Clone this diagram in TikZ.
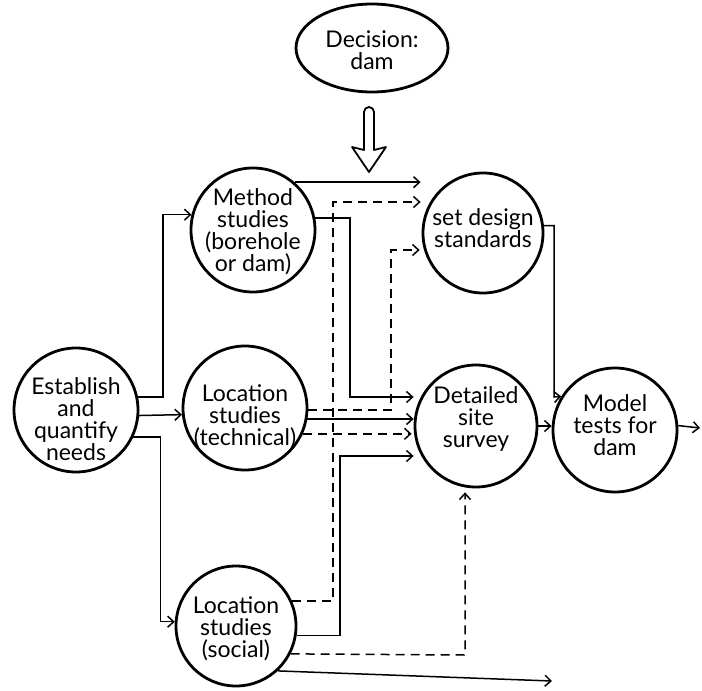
\documentclass[tikz,border=0pt]{standalone}
\usepackage{fontspec}
\setmainfont{Lato}
\usetikzlibrary{arrows.meta,shapes.geometric}
\begin{document}
\begin{tikzpicture}[x=1pt,y=-1pt,
  bubble/.style={circle,draw,line width=2.8pt,inner sep=0pt,minimum size=#1},
  bubble/.default=124pt,
  lbl/.style={align=center,font=\fontsize{23}{22}\selectfont,inner sep=0pt},
  flow/.style={line width=1.5pt,-{Straight Barb[length=6pt,width=11pt,line width=1.5pt]}},
  dflow/.style={flow,dash pattern=on 9pt off 6pt},
]
\useasboundingbox (0,0) rectangle (702,691);

% activities
\node[ellipse,draw,line width=2.8pt,minimum width=152pt,minimum height=88pt,inner sep=0pt] (dec) at (372,48) {};
\node[lbl] (dec-t) at (372,50) {Decision:\\dam};

\node[bubble] (es) at (76,410) {};
\node[lbl] (es-t) at (76,419) {Establish\\and\\quantify\\needs};

\node[bubble] (ms) at (253,230) {};
\node[lbl] (ms-t) at (253,232) {Method\\studies\\(borehole\\or dam)};

\node[bubble] (lt) at (245,408) {};
\node[lbl] (lt-t) at (245,417) {Location\\studies\\(technical)};

\node[bubble=120pt] (ls) at (236,626) {};
\node[lbl] (ls-t) at (236,629) {Location\\studies\\(social)};

\node[bubble=120pt] (sd) at (483,233) {};
\node[lbl] (sd-t) at (483,228) {set design\\standards};

\node[bubble=122pt] (ss) at (476,426) {};
\node[lbl] (ss-t) at (476,419) {Detailed\\site\\survey};

\node[bubble] (mt) at (615,430) {};
\node[lbl] (mt-t) at (615,425) {Model\\tests for\\dam};

% hollow arrow under the decision
\draw[line width=1.8pt,line join=round] (364,150) -- (364,112)
  arc[start angle=180,end angle=360,radius=5] -- (374,150) -- (386,147)
  -- (369,172) -- (352,147) -- cycle;

% bend points and free ends
\coordinate (j1) at (333,202);
\coordinate (j2) at (391,250);
\coordinate (j3) at (350,397);
\coordinate (j4) at (340,456);
\coordinate (j5) at (465,655);
\coordinate (j6) at (554,397);
\coordinate (out1) at (700,428);
\coordinate (out2) at (552,681);

% links
\draw[flow] (es.12) -- ++(25,0) |- (ms.166);
\draw[flow] (es.-5) -- (lt.186);
\draw[flow] (es.-25) -- ++(27,0) |- (ls.176);

\draw[flow,shorten >=1pt] (ms.49) -- (ms.49 -| sd.west);
\draw[dflow,shorten >=1pt] (ls.24) -| (j1) -- (j1 -| sd.west);
\draw[dflow,shorten >=2pt] (lt.-2) -| (j2) -- (j2 -| sd.west);

\draw[flow] (ms.11) -| (j3) -- (j3 -| ss.west);
\draw[flow] (lt.-10) -- (lt.-10 -| ss.west);
\draw[dflow,shorten >=2pt] (lt.-24) -- (lt.-24 -| ss.west);
\draw[flow] (ls.-9) -| (j4) -- (j4 -| ss.west);
\draw[dflow,shorten >=4pt] (ls.-27) -- (j5) -- (j5 |- ss.south);
\draw[flow] (ls.-47) -- (out2);

\draw[flow] (sd.7) -| (j6) -- (mt.148);
\draw[flow] (ss.east) -- (ss.east -| mt.west);
\draw[flow] (mt.4) -- (out1);
\end{tikzpicture}
\end{document}
